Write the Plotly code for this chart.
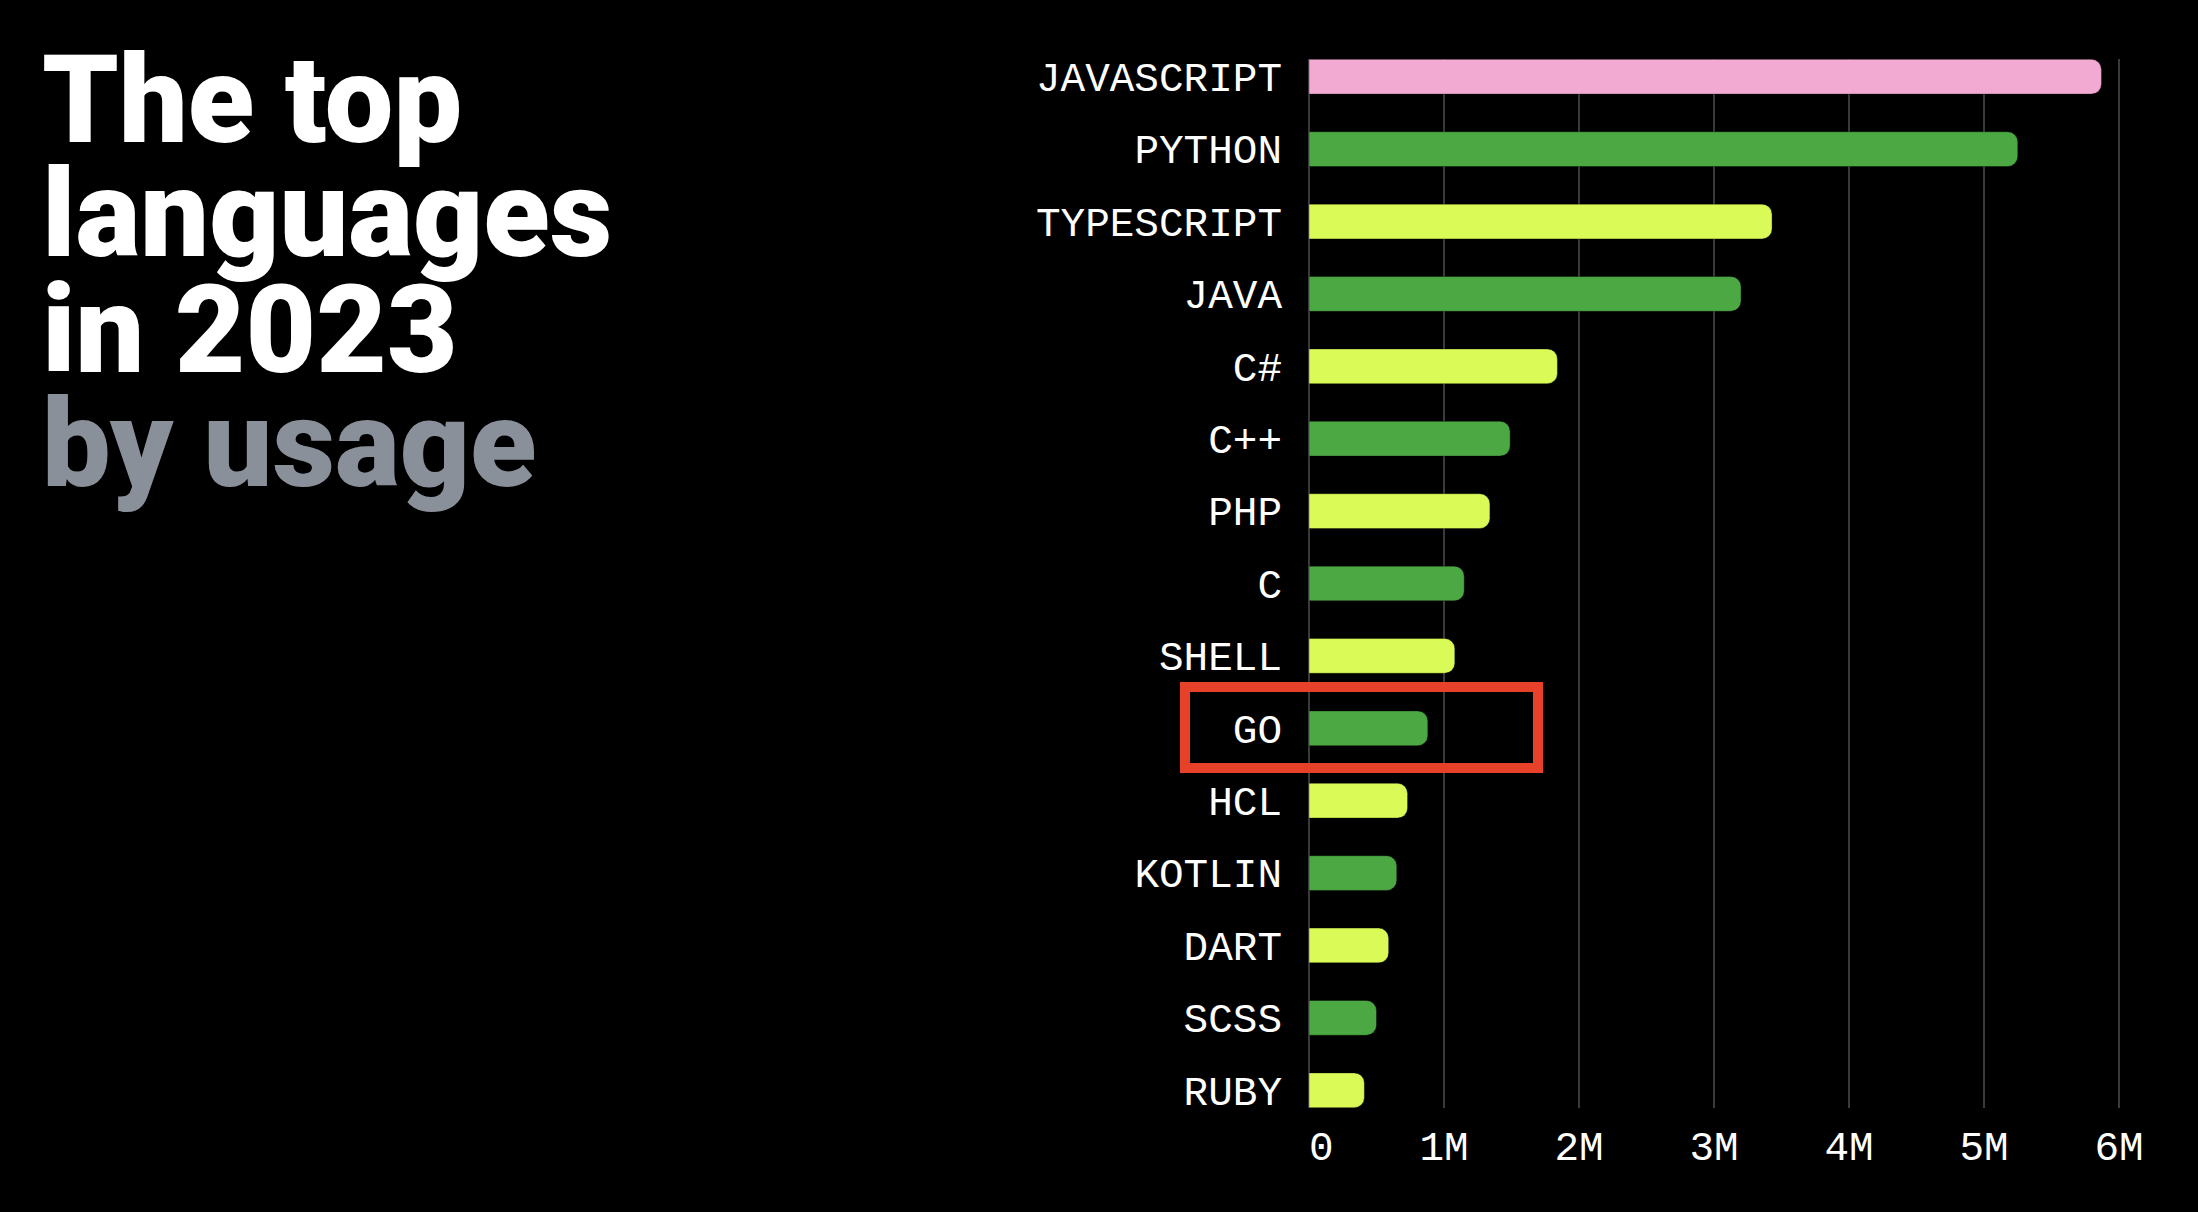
import plotly.graph_objects as go

# ---- data ----
languages = ["JAVASCRIPT", "PYTHON", "TYPESCRIPT", "JAVA", "C#", "C++", "PHP", "C",
             "SHELL", "GO", "HCL", "KOTLIN", "DART", "SCSS", "RUBY"]
usage = [5.87e6, 5.25e6, 3.43e6, 3.20e6, 1.84e6, 1.49e6, 1.34e6, 1.15e6,
         1.08e6, 0.88e6, 0.73e6, 0.65e6, 0.59e6, 0.50e6, 0.41e6]
tick_vals = [0, 1e6, 2e6, 3e6, 4e6, 5e6, 6e6]
tick_text = ["\u00a00", "1M", "2M", "3M", "4M", "5M", "6M"]
highlight = "GO"
title_lines = ["The top", "languages", "in 2023"]
subtitle = "by usage"

# ---- styling ----
PINK = "#F3AAD2"
GREEN = "#4CA843"
LIME = "#DAFB57"
colors = [PINK] + [GREEN if i % 2 == 1 else LIME for i in range(1, len(languages))]

W, H = 2198, 1212
ML, MR, MT, MB = 1309, 73, 59, 104
PW, PH = W - ML - MR, H - MT - MB

def px_x(px):
    return (px - ML) / PW

def px_y(py):
    return 1 - (py - MT) / PH

fig = go.Figure(go.Bar(
    x=usage, y=languages, orientation="h",
    marker=dict(color=colors, cornerradius=10,
                line=dict(color="rgba(0,0,0,0.35)", width=1)),
    width=0.48,
    hoverinfo="x+y",
))

mono = "Liberation Mono"
fig.update_layout(
    width=W, height=H,
    margin=dict(l=ML, r=MR, t=MT, b=MB),
    paper_bgcolor="#000000", plot_bgcolor="#000000",
    showlegend=False,
    xaxis=dict(range=[0, PW / 135 * 1e6], tickvals=tick_vals, ticktext=tick_text,
               showgrid=True, gridcolor="#3a3a3a", gridwidth=1.5,
               zeroline=True, zerolinecolor="#3a3a3a", zerolinewidth=1.5,
               tickfont=dict(family=mono, size=41, color="#ffffff"),
               ticks="", ticklabelstandoff=10, showline=False),
    yaxis=dict(categoryorder="array", categoryarray=languages,
               range=[len(languages) - 1 + 0.245, -0.245],
               tickfont=dict(family=mono, size=41, color="#ffffff"),
               ticks="", ticklabelstandoff=26, showgrid=False, zeroline=False,
               showline=False),
)

title_font = "Roboto"
baselines = [148, 263, 378, 492]
for i, line in enumerate(title_lines + [subtitle]):
    col = "#ffffff" if i < len(title_lines) else "#8A9099"
    fig.add_annotation(
        text=line, xref="paper", yref="paper",
        x=px_x(40), y=px_y(baselines[i] - 48),
        xanchor="left", yanchor="middle", showarrow=False,
        font=dict(family=title_font, size=122, color=col, weight=900),
    )

# highlight box around GO
fig.add_shape(type="rect", xref="paper", yref="paper",
              x0=px_x(1185), x1=px_x(1538), y0=px_y(687), y1=px_y(768),
              line=dict(color="#E8412A", width=10), fillcolor="rgba(0,0,0,0)")

fig.write_html("out.html")
